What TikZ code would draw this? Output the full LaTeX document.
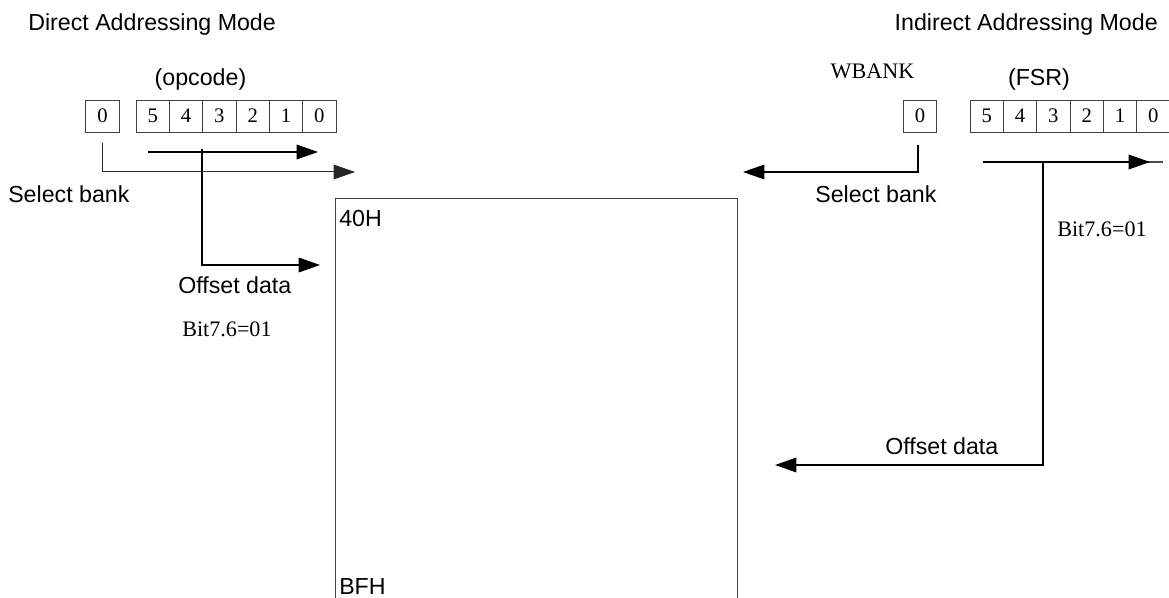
\documentclass[tikz,border=0pt]{standalone}
\usepackage{fontspec}
\setmainfont{Liberation Serif}
\setsansfont{Liberation Sans}
\usetikzlibrary{arrows.meta}
\tikzset{
  sanslbl/.style={inner sep=0pt, font=\sffamily\fontsize{17.4}{20}\selectfont},
  seriflbl/.style={inner sep=0pt, font=\rmfamily\fontsize{16.6}{19}\selectfont},
  cell/.style={draw=black!75, line width=0.6pt, minimum width=25pt, minimum height=24pt, inner sep=0pt, font=\rmfamily\fontsize{15.5}{18}\selectfont},
  wire/.style={line width=1pt, black},
  arr/.style={wire, -{Triangle[length=16pt,width=11pt]}},
  thinarr/.style={line width=0.75pt, black!85, -{Triangle[length=16pt,width=11pt]}},
  memline/.style={line width=0.6pt, black!75}
}
\begin{document}
\begin{tikzpicture}[x=0.75pt,y=-0.75pt]
\useasboundingbox (0,0) rectangle (1169,598);
% titles
\node[sanslbl, anchor=base west] (tdirect) at (28,31) {Direct Addressing Mode};
\node[sanslbl, anchor=base east] (tindirect) at (1158,31) {Indirect Addressing Mode};
\node[sanslbl, anchor=base] (topcode) at (200.5,86) {(opcode)};
\node[sanslbl, anchor=base] (tfsr) at (1039,86) {(FSR)};
\node[seriflbl, anchor=base] (twbank) at (872.5,79) {WBANK};
% left registers
\node[cell] (l0) at (102.5,116) {0};
\node[cell] (a5) at (152.7,116) {5};
\node[cell] (a4) at (186,116) {4};
\node[cell] (a3) at (219.3,116) {3};
\node[cell] (a2) at (252.7,116) {2};
\node[cell] (a1) at (286,116) {1};
\node[cell] (a0) at (319.3,116) {0};
% right registers
\node[cell] (r0) at (920,116) {0};
\node[cell] (b5) at (986.7,116) {5};
\node[cell] (b4) at (1020,116) {4};
\node[cell] (b3) at (1053.3,116) {3};
\node[cell] (b2) at (1086.7,116) {2};
\node[cell] (b1) at (1120,116) {1};
\node[cell] (b0) at (1153.3,116) {0};
% memory block
\coordinate (mbl) at (335,598);
\coordinate (mtl) at (335,198);
\coordinate (mtr) at (737,198);
\coordinate (mbr) at (737,598);
\draw[memline] (mbl) -- (mtl) -- (mtr) -- (mbr);
\node[sanslbl, anchor=base west] (t40) at (339,227) {40H};
\node[sanslbl, anchor=base west] (tbf) at (339,594) {BFH};
% left connectors
\coordinate (s1) at (148,152);
\coordinate (e1) at (318,152);
\draw[arr] (s1) -- (e1);
\coordinate (v1) at (202,149);
\coordinate (v2) at (202,265);
\coordinate (e2) at (320,265);
\draw[arr] (v1) -- (v2) -- (e2);
\coordinate (sb1) at (102,143);
\coordinate (sb2) at (102,172);
\coordinate (e3) at (355,172);
\draw[thinarr] (sb1) -- (sb2) -- (e3);
\node[sanslbl, anchor=base west] (tsel1) at (8,203) {Select bank};
\node[sanslbl, anchor=base west] (toff1) at (178,294) {Offset data};
\node[seriflbl, anchor=base west] (tbit1) at (182,336) {Bit7.6=01};
% right connectors
\coordinate (w1) at (918,145);
\coordinate (w2) at (918,172);
\coordinate (w3) at (743,172);
\draw[arr] (w1) -- (w2) -- (w3);
\coordinate (f1) at (983,162);
\coordinate (f2) at (1150,162);
\coordinate (f3) at (1163,162);
\draw[wire, black!70, line width=0.8pt] (f1) -- (f3);
\draw[arr] (f1) -- (f2);
\coordinate (g1) at (1043,162);
\coordinate (g2) at (1043,465);
\coordinate (g3) at (775,465);
\draw[arr] (g1) -- (g2) -- (g3);
\node[sanslbl, anchor=base west] (tsel2) at (815,203) {Select bank};
\node[seriflbl, anchor=base west] (tbit2) at (1057,237) {Bit7.6=01};
\node[sanslbl, anchor=base west] (toff2) at (885,454) {Offset data};
\end{tikzpicture}
\end{document}
